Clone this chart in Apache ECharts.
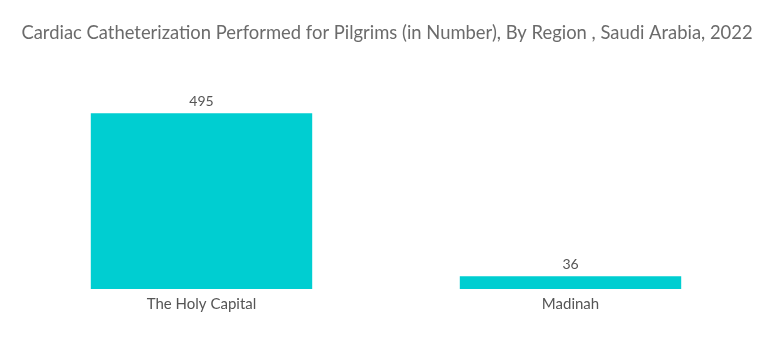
<!DOCTYPE html>
<html><head><meta charset="utf-8">
<script src="https://cdn.jsdelivr.net/npm/echarts@6/dist/echarts.min.js"></script>
<style>html,body{margin:0;padding:0;background:#fff}#c{width:774px;height:349px}</style>
</head><body><div id="c"></div>
<script>
const categories = ["The Holy Capital", "Madinah"];
const values = [495, 36];
const titleText = "Cardiac Catheterization Performed for Pilgrims (in Number), By Region , Saudi Arabia, 2022";
const chart = echarts.init(document.getElementById('c'), null, {renderer: 'canvas'});
chart.setOption({
  animation: false,
  title: {text: titleText, left: 'center', top: 19,
    textStyle: {fontFamily: 'Lato', fontSize: 18.4, fontWeight: 'normal', color: '#6b6b6b'}},
  grid: {left: 17, right: 19, top: 76, bottom: 60},
  xAxis: {type: 'category', data: categories,
    axisLine: {show: false}, axisTick: {show: false},
    axisLabel: {color: '#555', fontSize: 15, fontFamily: 'Lato', margin: 8}},
  yAxis: {type: 'value', min: 0, max: 600, show: false, splitLine: {show: false}},
  series: [{type: 'bar', data: values, barWidth: '60%',
    itemStyle: {color: '#00CED1'},
    label: {show: true, position: 'top', color: '#555', fontSize: 14, fontFamily: 'Lato', distance: 5}}]
});
</script></body></html>
